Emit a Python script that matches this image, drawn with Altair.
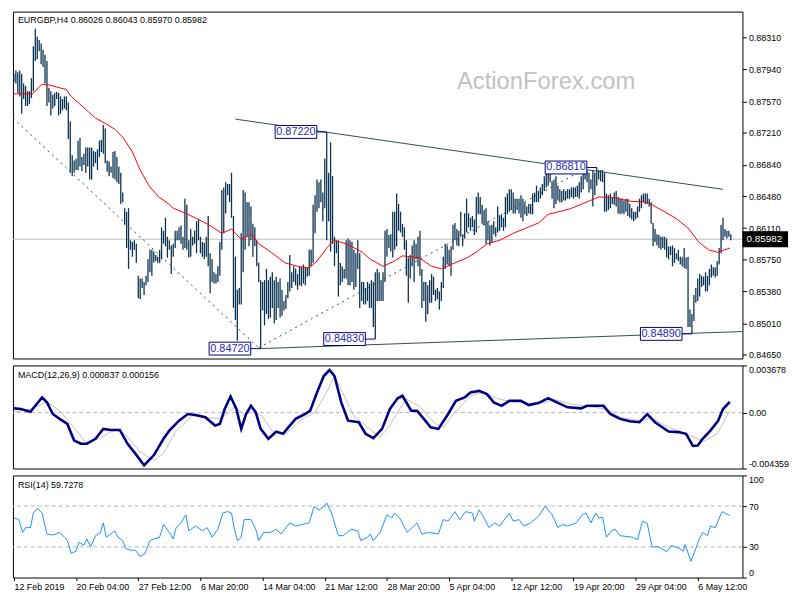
import altair as alt
import pandas as pd

# ---------------- data ----------------
# H4 bars, index 0..369 ; highs / lows in pips (x 1e-4)
HIGH = [8789, 8793, 8791, 8793, 8789, 8778, 8775, 8769, 8769, 8784,
        8821, 8841, 8832, 8828, 8824, 8817, 8811, 8804, 8773, 8769,
        8765, 8767, 8768, 8767, 8763, 8760, 8763, 8763, 8756, 8734,
        8695, 8689, 8691, 8712, 8715, 8693, 8697, 8704, 8704, 8704,
        8704, 8700, 8699, 8702, 8712, 8713, 8730, 8726, 8689, 8688,
        8682, 8699, 8700, 8693, 8682, 8675, 8652, 8634, 8630, 8634,
        8597, 8595, 8597, 8593, 8556, 8553, 8553, 8549, 8556, 8575,
        8586, 8586, 8584, 8580, 8578, 8586, 8612, 8608, 8623, 8601,
        8597, 8591, 8593, 8608, 8608, 8612, 8614, 8601, 8645, 8638,
        8597, 8610, 8601, 8608, 8619, 8621, 8601, 8595, 8594, 8601,
        8625, 8582, 8575, 8560, 8558, 8567, 8595, 8655, 8658, 8664,
        8662, 8662, 8675, 8625, 8578, 8540, 8542, 8605, 8655, 8652,
        8641, 8641, 8636, 8616, 8612, 8597, 8571, 8551, 8549, 8551,
        8564, 8551, 8555, 8560, 8551, 8555, 8549, 8553, 8540, 8527,
        8534, 8549, 8580, 8560, 8567, 8564, 8558, 8567, 8566, 8569,
        8566, 8566, 8586, 8586, 8638, 8649, 8667, 8664, 8667, 8652,
        8691, 8722, 8675, 8710, 8671, 8601, 8597, 8597, 8571, 8567,
        8564, 8597, 8599, 8597, 8595, 8586, 8582, 8597, 8582, 8549,
        8549, 8542, 8549, 8547, 8551, 8549, 8560, 8564, 8560, 8551,
        8560, 8608, 8610, 8603, 8604, 8630, 8630, 8651, 8639, 8630,
        8616, 8612, 8597, 8577, 8580, 8591, 8597, 8593, 8601, 8608,
        8564, 8549, 8549, 8545, 8551, 8558, 8555, 8540, 8542, 8538,
        8549, 8578, 8593, 8591, 8586, 8590, 8615, 8617, 8610, 8608,
        8630, 8604, 8628, 8645, 8628, 8623, 8625, 8621, 8647, 8652,
        8647, 8638, 8632, 8634, 8619, 8614, 8615, 8619, 8612, 8636,
        8625, 8627, 8623, 8647, 8651, 8656, 8656, 8652, 8645, 8645,
        8645, 8649, 8645, 8641, 8636, 8639, 8639, 8651, 8652, 8660,
        8654, 8658, 8662, 8671, 8680, 8679, 8677, 8665, 8667, 8671,
        8660, 8656, 8654, 8656, 8654, 8656, 8656, 8658, 8658, 8658,
        8660, 8664, 8671, 8677, 8679, 8677, 8675, 8667, 8678, 8675,
        8681, 8678, 8678, 8678, 8675, 8651, 8649, 8651, 8647, 8652,
        8654, 8647, 8645, 8645, 8643, 8645, 8645, 8639, 8634, 8630,
        8630, 8636, 8645, 8649, 8651, 8651, 8651, 8645, 8641, 8617,
        8610, 8604, 8603, 8601, 8601, 8601, 8599, 8590, 8590, 8591,
        8588, 8582, 8586, 8578, 8577, 8588, 8577, 8578, 8517, 8512,
        8534, 8542, 8553, 8558, 8556, 8555, 8560, 8556, 8564, 8569,
        8566, 8566, 8573, 8588, 8615, 8623, 8610, 8608, 8608, 8604]
LOW = [8780, 8778, 8767, 8763, 8743, 8760, 8752, 8752, 8754, 8761,
       8769, 8804, 8806, 8815, 8800, 8797, 8778, 8752, 8756, 8741,
       8749, 8752, 8760, 8741, 8743, 8747, 8749, 8747, 8714, 8675,
       8671, 8675, 8678, 8678, 8682, 8677, 8684, 8675, 8682, 8667,
       8667, 8682, 8686, 8678, 8693, 8699, 8697, 8686, 8676, 8671,
       8675, 8669, 8667, 8664, 8662, 8639, 8641, 8615, 8588, 8564,
       8586, 8578, 8586, 8571, 8530, 8529, 8542, 8534, 8545, 8549,
       8560, 8556, 8571, 8573, 8571, 8571, 8575, 8593, 8590, 8577,
       8586, 8558, 8578, 8588, 8597, 8597, 8593, 8586, 8588, 8586,
       8577, 8578, 8591, 8593, 8582, 8597, 8582, 8578, 8575, 8578,
       8567, 8536, 8549, 8547, 8547, 8549, 8556, 8586, 8605, 8628,
       8649, 8641, 8623, 8519, 8505, 8481, 8523, 8523, 8560, 8586,
       8601, 8590, 8597, 8578, 8590, 8567, 8549, 8472, 8516, 8499,
       8512, 8506, 8508, 8519, 8501, 8505, 8519, 8508, 8510, 8516,
       8518, 8530, 8538, 8542, 8549, 8545, 8540, 8545, 8544, 8547,
       8545, 8555, 8556, 8567, 8571, 8605, 8630, 8634, 8641, 8619,
       8634, 8597, 8619, 8584, 8593, 8567, 8582, 8532, 8545, 8549,
       8553, 8553, 8545, 8545, 8549, 8540, 8543, 8564, 8519, 8527,
       8523, 8523, 8527, 8519, 8519, 8497, 8483, 8527, 8527, 8527,
       8527, 8549, 8578, 8588, 8584, 8577, 8586, 8590, 8608, 8606,
       8601, 8586, 8556, 8525, 8553, 8567, 8549, 8575, 8567, 8556,
       8519, 8527, 8503, 8512, 8525, 8525, 8534, 8527, 8529, 8517,
       8527, 8542, 8564, 8569, 8567, 8556, 8586, 8597, 8591, 8590,
       8601, 8590, 8599, 8606, 8612, 8608, 8612, 8603, 8606, 8627,
       8627, 8616, 8614, 8593, 8597, 8591, 8595, 8604, 8601, 8606,
       8608, 8612, 8608, 8612, 8627, 8630, 8632, 8628, 8628, 8632,
       8628, 8623, 8619, 8627, 8625, 8628, 8627, 8627, 8641, 8641,
       8641, 8645, 8649, 8654, 8658, 8660, 8664, 8645, 8634, 8639,
       8643, 8641, 8641, 8643, 8643, 8645, 8645, 8647, 8645, 8647,
       8647, 8645, 8652, 8656, 8667, 8664, 8652, 8656, 8636, 8649,
       8660, 8667, 8665, 8664, 8630, 8630, 8632, 8634, 8639, 8638,
       8636, 8628, 8627, 8628, 8627, 8630, 8625, 8623, 8621, 8619,
       8621, 8623, 8630, 8634, 8641, 8639, 8639, 8636, 8616, 8590,
       8595, 8591, 8588, 8586, 8588, 8586, 8577, 8575, 8580, 8567,
       8571, 8575, 8573, 8569, 8567, 8565, 8564, 8497, 8497, 8489,
       8504, 8525, 8527, 8532, 8543, 8545, 8538, 8538, 8545, 8554,
       8556, 8554, 8556, 8569, 8582, 8597, 8601, 8599, 8601, 8597]

# red moving average (bar index, pips)
MA_IDX = [0, 9.5, 14.5, 18.5, 23.5, 27, 29.5, 33.5, 38.5, 42,
          47, 52, 56, 61, 65, 69.5, 74.5, 78.5, 82, 88.5,
          95, 101, 107, 112, 117, 122.5, 126, 132.5, 139.5, 146,
          152, 156, 161, 164.5, 169.5, 174.5, 179.5, 183.5, 190, 195,
          200, 208.5, 215, 220, 227, 233.5, 238.5, 243.5, 250, 257,
          263.5, 270, 275, 286, 292.5, 301, 309.5, 317.5, 326, 332.5,
          341, 347.5, 352.5, 357.5, 362.5, 364.5, 368.5]
MA_VAL = [8766, 8766, 8777, 8776, 8773, 8771, 8763, 8755, 8745, 8738,
          8732, 8725, 8716, 8699, 8678, 8660, 8647, 8641, 8634, 8628,
          8621, 8614, 8605, 8610, 8598, 8604, 8593, 8583, 8571, 8567,
          8565, 8573, 8588, 8597, 8594, 8589, 8583, 8575, 8567, 8572,
          8579, 8577, 8567, 8564, 8571, 8577, 8584, 8593, 8597, 8605,
          8611, 8617, 8627, 8633, 8639, 8647, 8646, 8642, 8641, 8633,
          8622, 8610, 8595, 8586, 8583, 8585, 8588]

# MACD main line and signal (x 1e-5)
MACD_IDX = [0, 3.5, 8.5, 11, 14.5, 17, 20, 23.5, 27.5, 31,
            34.5, 37.5, 42, 46, 50, 54.5, 58.5, 62.5, 67, 72,
            77, 80, 85, 89.5, 93.5, 98.5, 103.5, 106, 108.5, 111.5,
            114.5, 117, 119.5, 122, 124.5, 127, 131, 135, 138.5, 142,
            145, 150, 152.5, 156, 159.5, 162.5, 165, 168.5, 172, 177.5,
            181, 185, 189.5, 193.5, 197.5, 200, 204.5, 207.5, 211, 214.5,
            218.5, 223.5, 227.5, 232, 235, 239.5, 243.5, 247, 251, 255,
            261, 265, 270, 275, 279.5, 285, 292, 295, 303.5, 307,
            312, 317, 322, 326, 330, 337, 342, 346, 349.5, 352,
            354.5, 358.5, 362.5, 365, 368.5]
MACD_VAL = [33, 28, 7, 53, 118, 80, -11, -49, -88, -217,
            -243, -243, -204, -127, -135, -135, -243, -320, -410, -333,
            -204, -140, -63, -11, -19, -36, -101, -88, 28, 126,
            28, -127, -11, 53, 2, -127, -204, -148, -165, -101,
            -49, -11, 15, 157, 285, 332, 285, 80, -63, -75,
            -165, -199, -127, 28, 111, 131, 15, 15, -49, -114,
            -127, -11, 92, 118, 157, 169, 144, 80, 53, 92,
            92, 59, 74, 113, 80, 41, 33, 53, 53, -11,
            -49, -67, -75, -11, -75, -148, -152, -165, -260, -256,
            -204, -140, -63, 28, 84]
SIG_IDX = [0, 8.5, 17, 23.5, 30, 37, 43.5, 52, 57, 65,
           72, 77, 83.5, 92, 102, 107, 113.5, 118.5, 122.5, 127.5,
           133.5, 140, 148.5, 155, 160, 165, 170, 175, 182, 188.5,
           193.5, 198.5, 202, 208.5, 217, 221, 227, 235, 242, 248.5,
           257, 265, 273.5, 278.5, 287, 295, 305, 312, 322, 328.5,
           337, 345, 355, 362, 368.5]
SIG_VAL = [2, 28, 84, 15, -101, -230, -204, -132, -165, -307,
           -372, -320, -140, -24, -44, -44, 41, -11, 2, -24,
           -152, -165, -49, 2, 131, 285, 131, -24, -114, -191,
           -101, 28, 105, 53, -88, -114, 2, 131, 157, 111,
           80, 74, 80, 100, 66, 49, 28, -36, -63, -44,
           -114, -158, -225, -165, 15]

# RSI(14)
RSI_IDX = [0, 2.5, 4.5, 6, 8.5, 10, 12, 14.5, 17, 20,
           23.5, 26, 27.5, 29.5, 32, 33.5, 36, 37.5, 39.5, 42,
           44.5, 46, 47.5, 52, 53.5, 56, 57.5, 60, 62.5, 65,
           67.5, 70, 72, 75, 77, 80, 82, 83.5, 86, 88.5,
           90, 93.5, 97, 99.5, 102, 105, 107.5, 110, 112, 113.5,
           115, 117, 118.5, 122, 124.5, 126, 128.5, 132, 135, 137.5,
           142, 145, 148.5, 152, 154.5, 157, 159.5, 161, 163.5, 167,
           169.5, 173.5, 177, 178.5, 182, 183.5, 185, 188.5, 192, 194.5,
           196, 198.5, 202.5, 205, 207.5, 210, 213.5, 218.5, 221, 223.5,
           227, 229.5, 232.5, 236, 237, 239.5, 242, 244.5, 247.5, 250,
           255, 257, 260, 262.5, 266, 270, 273.5, 277, 280, 282.5,
           285, 289.5, 292.5, 294.5, 297, 299.5, 301, 303, 305, 307.5,
           309.5, 312, 318.5, 321, 323.5, 326, 328.5, 332, 336, 338.5,
           342.5, 344.5, 345.5, 348.5, 351, 352.5, 354.5, 357, 358.5, 361,
           364.5, 366, 368.5]
RSI_VAL = [58.4, 56.8, 44.2, 48.9, 48.9, 63.1, 67.8, 63.1, 42.6, 41.6,
           44.2, 39.5, 36.2, 23.7, 25.8, 34.7, 31.5, 37.8, 30, 41,
           44.2, 53.6, 39.5, 45.7, 39.5, 36.2, 28.4, 26.8, 26.8, 20.5,
           23.7, 36.2, 37.8, 39.5, 52, 44.2, 37.8, 48.9, 53.6, 61.5,
           45.7, 50.4, 45.7, 48.9, 39.5, 47.3, 63.1, 64.6, 63.1, 47.3,
           36.2, 39.5, 56.8, 56.8, 47.3, 36.2, 44.2, 44.2, 47.3, 42.6,
           53.6, 50.4, 52, 53.6, 69.4, 66.2, 69.4, 73.1, 63.1, 41,
           41, 47.3, 45.7, 36.2, 39.5, 42.6, 36.2, 44.2, 61.5, 58.4,
           63.1, 58.4, 44.2, 48.9, 53.6, 42.6, 44.2, 42.6, 56.8, 55.2,
           64.6, 56.8, 64.6, 63.1, 55.2, 66.2, 58.4, 48.9, 53.6, 50.4,
           63.1, 55.2, 56.8, 50.4, 53.6, 59.9, 70, 61.5, 48.9, 52,
           50.4, 53.6, 61.5, 63.1, 53.6, 63.1, 58.4, 58.9, 39.5, 45.7,
           47.3, 41, 39.5, 36.9, 55.2, 53, 30, 30, 25.3, 31.5,
           28.4, 25.8, 32.2, 15.8, 28.4, 36.2, 44.2, 41, 50.4, 48.9,
           64.6, 63.1, 60.6]

# trend lines (bar index, price)
RES_IDX, RES_VAL = [114, 365], [0.87368, 0.86558]
SUP_IDX, SUP_VAL = [127, 375], [0.84720, 0.84917]
DASH1_IDX, DASH1_VAL = [-0.5, 126], [0.87380, 0.84730]
DASH2_IDX, DASH2_VAL = [126, 293.5], [0.84730, 0.86790]

# swing labels
LBL_IDX = [161, 300, 127, 186, 349]
LBL_VAL = [0.87220, 0.86810, 0.84720, 0.84830, 0.84890]
LBL_TXT = ["0.87220", "0.86810", "0.84720", "0.84830", "0.84890"]

LAST = 0.85982
INFO = "EURGBP,H4  0.86026 0.86043 0.85970 0.85982"
MACD_TXT = "MACD(12,26,9) 0.000837 0.000156"
RSI_TXT = "RSI(14) 59.7278"

PRICE_TICKS = [0.88310, 0.87940, 0.87570, 0.87210, 0.86840, 0.86480,
               0.86110, 0.85750, 0.85380, 0.85010, 0.84650]
MACD_TICKS = [0.003678, 0.0, -0.004359]
MACD_TICK_TXT = ["0.003678", "0.00", "-0.004359"]
RSI_TICKS = [0, 30, 70, 100]
XTICK_IDX = [0, 32, 64, 96, 128, 160, 192, 224, 256, 288, 320, 352]
X_LABELS = ["12 Feb 2019", "20 Feb 04:00", "27 Feb 12:00", "6 Mar 20:00",
            "14 Mar 04:00", "21 Mar 12:00", "28 Mar 20:00", "5 Apr 04:00",
            "12 Apr 12:00", "19 Apr 20:00", "29 Apr 04:00", "6 May 12:00"]

# ---------------- frames ----------------
bars = pd.DataFrame({"i": list(range(len(HIGH))),
                     "high": [h / 1e4 for h in HIGH],
                     "low": [l / 1e4 for l in LOW]})
ma = pd.DataFrame({"i": MA_IDX, "p": [v / 1e4 for v in MA_VAL]})
macd = pd.DataFrame({"i": MACD_IDX, "v": [v / 1e5 for v in MACD_VAL]})
sig = pd.DataFrame({"i": SIG_IDX, "v": [v / 1e5 for v in SIG_VAL]})
rsi = pd.DataFrame({"i": RSI_IDX, "v": RSI_VAL})
solid = pd.DataFrame({"i": RES_IDX + SUP_IDX, "p": RES_VAL + SUP_VAL,
                      "g": ["r", "r", "s", "s"]})
dashed = pd.DataFrame({"i": DASH1_IDX + DASH2_IDX, "p": DASH1_VAL + DASH2_VAL,
                       "g": ["a", "a", "b", "b"]})
lbl = pd.DataFrame({"i": LBL_IDX, "p": LBL_VAL, "t": LBL_TXT})
last = pd.DataFrame({"p": [LAST], "t": [f"{LAST:.5f}"]})
zero_df = pd.DataFrame({"v": [0.0]})
levels_df = pd.DataFrame({"v": [30, 70]})

# ---------------- styling ----------------
W = 736
H1, H2, H3 = 350, 104, 103
FONT = "Liberation Sans"
BAR_C = "#0c3352"
TREND_C = "#2f4f4f"

xs = alt.Scale(domain=[-0.5, 375], nice=False, zero=False)
ps = alt.Scale(domain=[0.84606, 0.88609], nice=False, zero=False)
ms = alt.Scale(domain=[-0.004359, 0.003678], nice=False, zero=False)
rs = alt.Scale(domain=[0, 100], nice=False, zero=False)
X = alt.X("i:Q", scale=xs, axis=None)


def right_axis(values, **kw):
    return alt.Axis(orient="right", values=values, title=None, grid=False,
                    domain=False, tickSize=4, tickColor="black",
                    labelPadding=2, labelFont=FONT, labelFontSize=9,
                    labelColor="black", labelOverlap=False, **kw)


PAX = right_axis(PRICE_TICKS, format=".5f")
MAX = right_axis(MACD_TICKS, labelFlush=True,
                 labelExpr="datum.value > 0 ? '%s' : (datum.value < 0 ? '%s' : '%s')"
                 % (MACD_TICK_TXT[0], MACD_TICK_TXT[2], MACD_TICK_TXT[1]))
RAX = right_axis(RSI_TICKS, labelFlush=True, format="d")


def note(text, x, y, size=9, color="black"):
    return alt.Chart(pd.DataFrame({"t": [text]})).mark_text(
        align="left", baseline="middle", font=FONT, fontSize=size, color=color
    ).encode(x=alt.value(x), y=alt.value(y), text="t:N")


# ---- main price panel ----
PY = alt.Y("p:Q", scale=ps, axis=PAX)
hline = alt.Chart(last).mark_rule(color="#c0c0c0", strokeWidth=1).encode(y=PY)
bar_l = alt.Chart(bars).mark_rule(color=BAR_C, strokeWidth=1.3).encode(
    x=X, y=alt.Y("low:Q", scale=ps, axis=PAX), y2="high:Q")
ma_l = alt.Chart(ma).mark_line(color="#ff0000", strokeWidth=1).encode(x=X, y=PY)
solid_l = alt.Chart(solid).mark_line(color=TREND_C, strokeWidth=1).encode(
    x=X, y=PY, detail="g:N")
dash_l = alt.Chart(dashed).mark_line(color=TREND_C, strokeWidth=1,
                                     strokeDash=[2, 4]).encode(
    x=X, y=PY, detail="g:N")
box_l = alt.Chart(lbl).mark_point(
    shape="M-52,-6.5H-10V6.5H-52Z M-10,0H0", size=4, filled=True,
    fill="white", stroke="#000080", strokeWidth=1, opacity=1).encode(x=X, y=PY)
txt_l = alt.Chart(lbl).mark_text(dx=-31, font=FONT, fontSize=11,
                                 color="#2b2bb0", align="center",
                                 baseline="middle").encode(x=X, y=PY, text="t:N")
lastbox = alt.Chart(last).mark_point(
    shape="M1,-7H45V7H1Z", size=4, filled=True, fill="black",
    stroke="black", opacity=1).encode(x=alt.value(W), y=PY)
lasttxt = alt.Chart(last).mark_text(
    align="left", baseline="middle", font=FONT, fontSize=10,
    color="white").encode(x=alt.value(W + 4), y=PY, text="t:N")

main = alt.layer(
    hline, note("ActionForex.com", 448, 71, size=24, color="#c3c1c1"),
    bar_l, ma_l, solid_l, dash_l, box_l, txt_l, lastbox, lasttxt,
    note(INFO, 5, 9)
).properties(width=W, height=H1)

# ---- MACD panel ----
MY = alt.Y("v:Q", scale=ms, axis=MAX)
zero = alt.Chart(zero_df).mark_rule(color="#b4b4b4", strokeDash=[4, 3]).encode(y=MY)
sig_l = alt.Chart(sig).mark_line(color="#c0c0c0", strokeWidth=1).encode(x=X, y=MY)
macd_l = alt.Chart(macd).mark_line(color="#000080", strokeWidth=2.6).encode(x=X, y=MY)
macd_panel = alt.layer(zero, sig_l, macd_l, note(MACD_TXT, 5, 10)).properties(
    width=W, height=H2)

# ---- RSI panel ----
label_js = "[" + ",".join("'%s'" % s for s in X_LABELS) + "][round(datum.value/32)]"
x_axis = alt.Axis(values=XTICK_IDX, labelExpr=label_js, labelAlign="left",
                  labelBaseline="top", tickSize=3, labelPadding=2,
                  domain=False, grid=False, title=None, labelFont=FONT,
                  labelFontSize=9, labelColor="black", tickColor="black",
                  labelOverlap=False, labelFlush=False)
RY = alt.Y("v:Q", scale=rs, axis=RAX)
levels = alt.Chart(levels_df).mark_rule(color="#b4b4b4", strokeDash=[4, 3]).encode(y=RY)
rsi_l = alt.Chart(rsi).mark_line(color="#1e90ff", strokeWidth=1).encode(
    x=alt.X("i:Q", scale=xs, axis=x_axis), y=RY)
rsi_panel = alt.layer(levels, rsi_l, note(RSI_TXT, 5, 10)).properties(
    width=W, height=H3)

chart = alt.vconcat(main, macd_panel, rsi_panel, spacing=3, padding=0,
                    background="white"
                    ).configure(padding=0).configure_view(stroke="black",
                                                         strokeWidth=1)

chart.save("out.html", embed_options={"renderer": "svg", "actions": False})
